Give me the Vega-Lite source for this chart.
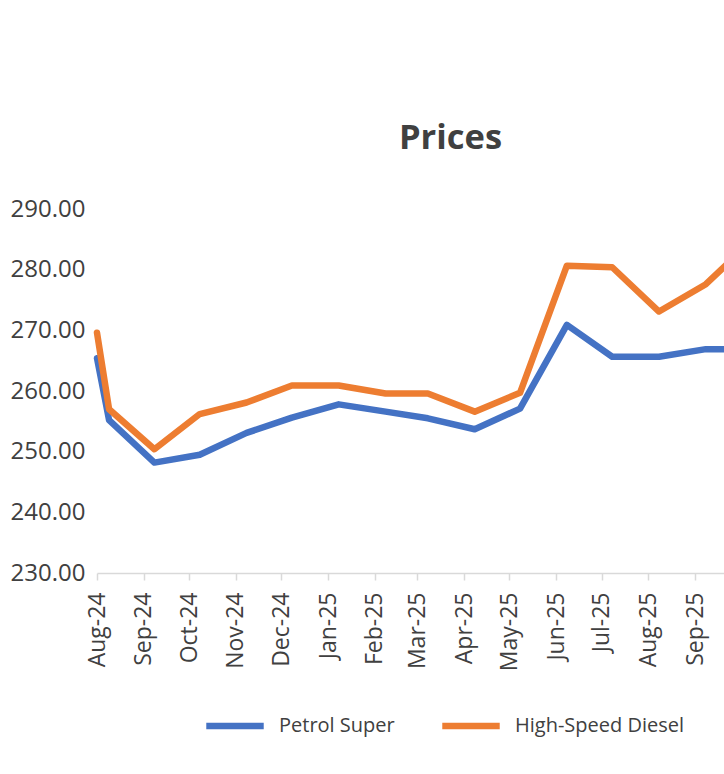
{
  "$schema": "https://vega.github.io/schema/vega-lite/v6.json",
  "autosize": {"type": "none"},
  "width": 627,
  "height": 364,
  "padding": {"left": 97, "top": 209, "right": 0, "bottom": 201},
  "background": "white",
  "config": {
    "view": {"stroke": null},
    "font": "Open Sans",
    "axis": {"labelFont": "Open Sans", "labelColor": "#404040", "grid": false}
  },
  "title": {
    "text": "Prices",
    "font": "Open Sans",
    "fontSize": 34.5,
    "fontWeight": "bold",
    "color": "#404040",
    "anchor": "middle",
    "frame": "group",
    "dx": 40,
    "offset": 41
  },
  "data": {
    "values": [
      {"date": "2024-08-01T00:00:00", "series": "Petrol Super", "price": 265.4},
      {"date": "2024-08-09T00:00:00", "series": "Petrol Super", "price": 255.2},
      {"date": "2024-09-08T00:00:00", "series": "Petrol Super", "price": 248.2},
      {"date": "2024-10-08T00:00:00", "series": "Petrol Super", "price": 249.5},
      {"date": "2024-11-08T00:00:00", "series": "Petrol Super", "price": 253.1},
      {"date": "2024-12-08T00:00:00", "series": "Petrol Super", "price": 255.6},
      {"date": "2025-01-08T00:00:00", "series": "Petrol Super", "price": 257.8},
      {"date": "2025-02-08T00:00:00", "series": "Petrol Super", "price": 256.6},
      {"date": "2025-03-08T00:00:00", "series": "Petrol Super", "price": 255.5},
      {"date": "2025-04-08T00:00:00", "series": "Petrol Super", "price": 253.7},
      {"date": "2025-05-08T00:00:00", "series": "Petrol Super", "price": 257.1},
      {"date": "2025-06-08T00:00:00", "series": "Petrol Super", "price": 270.9},
      {"date": "2025-07-08T00:00:00", "series": "Petrol Super", "price": 265.65},
      {"date": "2025-08-08T00:00:00", "series": "Petrol Super", "price": 265.65},
      {"date": "2025-09-08T00:00:00", "series": "Petrol Super", "price": 266.9},
      {"date": "2025-10-08T00:00:00", "series": "Petrol Super", "price": 266.9},
      {"date": "2024-08-01T00:00:00", "series": "High-Speed Diesel", "price": 269.6},
      {"date": "2024-08-09T00:00:00", "series": "High-Speed Diesel", "price": 257.0},
      {"date": "2024-09-08T00:00:00", "series": "High-Speed Diesel", "price": 250.4},
      {"date": "2024-10-08T00:00:00", "series": "High-Speed Diesel", "price": 256.2},
      {"date": "2024-11-08T00:00:00", "series": "High-Speed Diesel", "price": 258.1},
      {"date": "2024-12-08T00:00:00", "series": "High-Speed Diesel", "price": 260.9},
      {"date": "2025-01-08T00:00:00", "series": "High-Speed Diesel", "price": 260.9},
      {"date": "2025-02-08T00:00:00", "series": "High-Speed Diesel", "price": 259.6},
      {"date": "2025-03-08T00:00:00", "series": "High-Speed Diesel", "price": 259.6},
      {"date": "2025-04-08T00:00:00", "series": "High-Speed Diesel", "price": 256.6},
      {"date": "2025-05-08T00:00:00", "series": "High-Speed Diesel", "price": 259.7},
      {"date": "2025-06-08T00:00:00", "series": "High-Speed Diesel", "price": 280.65},
      {"date": "2025-07-08T00:00:00", "series": "High-Speed Diesel", "price": 280.4},
      {"date": "2025-08-08T00:00:00", "series": "High-Speed Diesel", "price": 273.1},
      {"date": "2025-09-08T00:00:00", "series": "High-Speed Diesel", "price": 277.6},
      {"date": "2025-10-08T00:00:00", "series": "High-Speed Diesel", "price": 284.7}
    ]
  },
  "mark": {"type": "line", "strokeWidth": 6.5, "strokeJoin": "round", "strokeCap": "round", "clip": false},
  "encoding": {
    "x": {
      "field": "date",
      "type": "temporal",
      "title": null,
      "scale": {"domain": [{"year": 2024, "month": 8, "date": 1}, {"year": 2025, "month": 9, "date": 20}]},
      "axis": {
        "format": "%b-%y",
        "tickCount": {"interval": "month", "step": 1},
        "labelAngle": -90,
        "labelFontSize": 23,
        "labelPadding": 12,
        "labelOverlap": false,
        "labelFlush": false,
        "labelBound": false,
        "domainColor": "#d9d9d9",
        "domainWidth": 1.5,
        "tickColor": "#d9d9d9",
        "tickSize": 7,
        "tickWidth": 1.5
      }
    },
    "y": {
      "field": "price",
      "type": "quantitative",
      "title": null,
      "scale": {"domain": [230, 290], "zero": false, "nice": false},
      "axis": {
        "values": [230, 240, 250, 260, 270, 280, 290],
        "format": ".2f",
        "labelFontSize": 24,
        "labelPadding": 12,
        "ticks": false,
        "domain": false,
        "grid": false
      }
    },
    "color": {
      "field": "series",
      "type": "nominal",
      "sort": ["Petrol Super", "High-Speed Diesel"],
      "scale": {"domain": ["Petrol Super", "High-Speed Diesel"], "range": ["#4472C4", "#ED7D31"]},
      "legend": {
        "title": null,
        "orient": "none",
        "direction": "horizontal",
        "legendX": 106,
        "legendY": 485,
        "symbolType": "stroke",
        "symbolSize": 3300,
        "symbolStrokeWidth": 6.5,
        "labelFontSize": 20,
        "labelFont": "Open Sans",
        "labelColor": "#404040",
        "labelOffset": 12,
        "labelLimit": 400,
        "columnPadding": 34
      }
    }
  }
}
